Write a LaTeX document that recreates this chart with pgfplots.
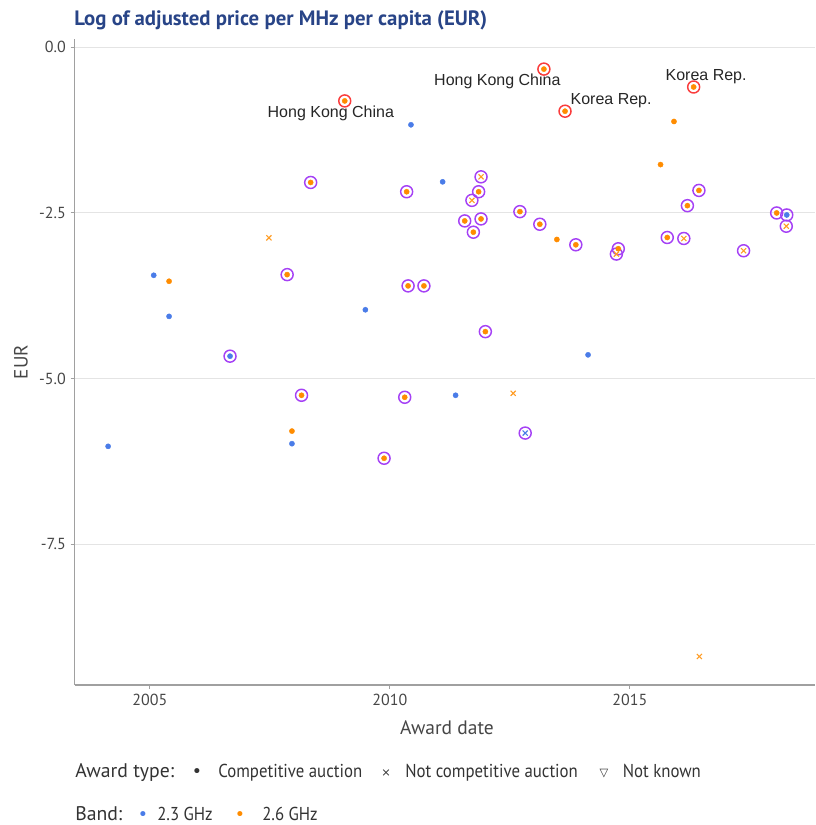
\documentclass[border=0pt]{standalone}
\usepackage{pgfplots}
\pgfplotsset{compat=1.18}
\usepackage{fontspec}
\setmainfont{PT Sans}
\newfontfamily\condfont[FakeStretch=0.9]{PT Sans}
\newfontfamily\labelfont{Liberation Sans}
\newfontfamily\symfont{DejaVu Sans}

\definecolor{band23}{RGB}{74,124,232}
\definecolor{band26}{RGB}{255,140,0}
\definecolor{ringpurple}{RGB}{165,65,245}
\definecolor{ringred}{RGB}{250,60,60}
\definecolor{titleblue}{RGB}{40,68,135}
\definecolor{axisgray}{RGB}{160,160,160}
\definecolor{gridgray}{RGB}{228,228,228}
\definecolor{ticktext}{RGB}{70,70,70}

\pgfplotsset{
  dotplot/.style={only marks, mark=*, mark size=1.95pt, color=#1,
    mark options={solid, fill=#1, draw=#1, line width=0.3pt}},
  crossplot/.style={only marks, mark=x, mark size=2.7pt, color=#1,
    mark options={solid, draw=#1, line width=0.85pt}},
  ringplot/.style={only marks, mark=o, mark size=4.5pt, color=#1,
    mark options={solid, draw=#1, fill=none, line width=1.1pt}},
}

\begin{document}
\begin{tikzpicture}[x=1pt,y=1pt]
\path[use as bounding box] (0,0) rectangle (612,618.75);
\begin{axis}[
  at={(55.9pt,105pt)}, anchor=south west,
  scale only axis, width=555.4pt, height=484.3pt,
  xmin=2003.43, xmax=2018.86, ymin=-9.62, ymax=0.12,
  axis lines=left, axis line style={axisgray, line width=1.1pt, -},
  xtick={2005,2010,2015}, xticklabels={2005,2010,2015},
  ytick={0,-2.5,-5,-7.5}, yticklabels={0.0,-2.5,-5.0,-7.5},
  ymajorgrids, grid style={gridgray, line width=0.8pt},
  tick style={axisgray, line width=0.8pt}, tick align=outside, major tick length=3pt,
  ticklabel style={font=\fontsize{12}{14}\selectfont, text=ticktext},
  clip=false,
]
% rings: purple for most awards, red for the highlighted ones
\addplot[ringplot=ringpurple] coordinates {
(2006.67,-4.66) (2018.27,-2.53) (2012.82,-5.82)
(2007.86,-3.43) (2008.16,-5.25) (2008.35,-2.04) (2009.88,-6.20) (2010.31,-5.28)
(2010.35,-2.18) (2010.38,-3.60) (2010.71,-3.60) (2011.56,-2.62) (2011.74,-2.79)
(2011.85,-2.18) (2011.90,-2.59) (2011.99,-4.29) (2012.71,-2.48) (2013.125,-2.67)
(2013.875,-2.98) (2014.76,-3.04) (2015.78,-2.87) (2016.20,-2.39) (2016.44,-2.16)
(2018.06,-2.50)
(2011.71,-2.31) (2011.90,-1.955) (2014.72,-3.12) (2016.125,-2.885) (2017.37,-3.07) (2018.26,-2.70)
};
\addplot[ringplot=ringred] coordinates {
(2009.06,-0.81) (2013.21,-0.33) (2013.65,-0.965) (2016.33,-0.60)
};
% 2.3 GHz, competitive auction
\addplot[dotplot=band23] coordinates {
(2004.13,-6.02) (2005.08,-3.44) (2005.40,-4.06) (2006.67,-4.66) (2007.96,-5.98)
(2009.49,-3.96) (2010.44,-1.17) (2011.10,-2.03) (2011.37,-5.25) (2014.13,-4.64)
(2018.27,-2.53)
};
% 2.3 GHz, not competitive auction
\addplot[crossplot=band23] coordinates {
(2012.82,-5.82)
};
% 2.6 GHz, competitive auction
\addplot[dotplot=band26] coordinates {
(2005.40,-3.53) (2007.86,-3.43) (2007.96,-5.79) (2008.16,-5.25) (2008.35,-2.04)
(2009.06,-0.81) (2009.88,-6.20) (2010.31,-5.28) (2010.35,-2.18) (2010.38,-3.60)
(2010.71,-3.60) (2011.56,-2.62) (2011.74,-2.79) (2011.85,-2.18) (2011.90,-2.59)
(2011.99,-4.29) (2012.71,-2.48) (2013.125,-2.67) (2013.21,-0.33) (2013.48,-2.90)
(2013.65,-0.965) (2013.875,-2.98) (2014.76,-3.04) (2015.64,-1.77) (2015.78,-2.87)
(2015.92,-1.12) (2016.20,-2.39) (2016.33,-0.60) (2016.44,-2.16) (2018.06,-2.50)
};
% 2.6 GHz, not competitive auction
\addplot[crossplot=band26!85] coordinates {
(2007.48,-2.875) (2011.71,-2.31) (2011.90,-1.955) (2012.57,-5.22) (2014.72,-3.12)
(2016.125,-2.885) (2016.45,-9.19) (2017.37,-3.07) (2018.26,-2.70)
};
% country labels
\begin{scope}[every node/.style={font=\labelfont\fontsize{12}{14}\selectfont, text=black!85}]
\node at (axis cs:2008.77,-1.00) {Hong Kong China};
\node at (axis cs:2012.24,-0.517) {Hong Kong China};
\node at (axis cs:2014.61,-0.81) {Korea Rep.};
\node at (axis cs:2016.59,-0.44) {Korea Rep.};
\end{scope}
\end{axis}

% title and axis titles
\node[anchor=base west, inner sep=0pt, font=\bfseries\fontsize{15.6}{18}\selectfont, text=titleblue] at (55.5,599.25) {Log of adjusted price per MHz per capita (EUR)};
\node[anchor=base, font=\fontsize{14.6}{17}\selectfont, text=ticktext] at (335.25,67.5) {Award date};
\node[rotate=90, font=\fontsize{14.4}{17}\selectfont, text=ticktext] at (15.75,347.25) {EUR};

% legend
\begin{scope}[every node/.style={anchor=base west, font=\fontsize{14.8}{17}\selectfont, text=black!80, inner sep=0pt},
  entry/.style={font=\condfont\fontsize{14}{17}\selectfont}]
\node at (56.25,35.25) {Award type:};
\node[anchor=base] at (147.75,35.25) {\symfont\fontsize{13}{14}\selectfont •};
\node[entry] at (163.5,35.25) {Competitive auction};
\node[anchor=base] at (289.5,36.5) {\symfont\fontsize{8.5}{14}\selectfont ×};
\node[entry] at (303.75,35.25) {Not competitive auction};
\node[anchor=base] at (453,36.5) {\symfont\fontsize{8.5}{14}\selectfont ▽};
\node[entry] at (466.9,35.25) {Not known};
\node at (56.25,3.75) {Band:};
\node[anchor=base, text=band23] at (107.25,3.75) {\symfont\fontsize{13}{14}\selectfont •};
\node[entry] at (117.75,3.75) {2.3 GHz};
\node[anchor=base, text=band26] at (180,3.75) {\symfont\fontsize{13}{14}\selectfont •};
\node[entry] at (196.5,3.75) {2.6 GHz};
\end{scope}
\end{tikzpicture}
\end{document}
